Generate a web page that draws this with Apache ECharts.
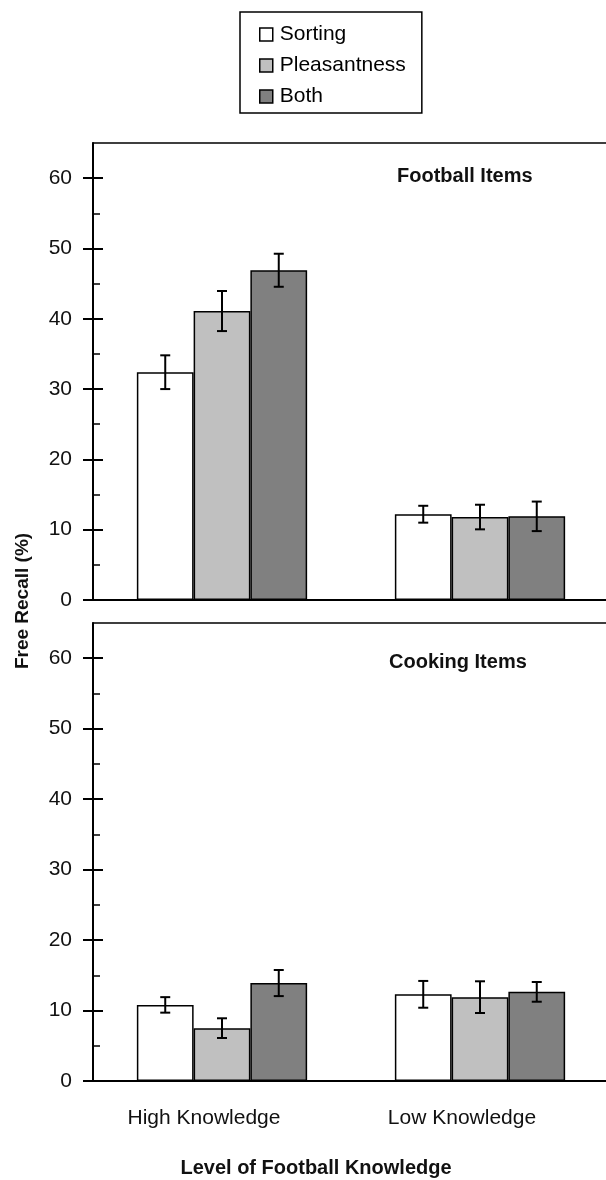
<!DOCTYPE html>
<html>
<head>
<meta charset="utf-8">
<script src="https://cdn.jsdelivr.net/npm/echarts@6/dist/echarts.min.js"></script>
<style>
html,body{margin:0;padding:0;background:#fff;}
#chart{width:606px;height:1180px;}
</style>
</head>
<body>
<div id="chart"></div>
<script>
// ---- data ----
const categories = ['High Knowledge', 'Low Knowledge'];
const seriesNames = ['Sorting', 'Pleasantness', 'Both'];
// Football Items panel (Free Recall %)
const footballSorting = [32.4, 12.2];
const footballPleasantness = [41.1, 11.8];
const footballBoth = [46.9, 11.9];
const footballSortingErr = [2.4, 1.2];
const footballPleasantnessErr = [2.85, 1.75];
const footballBothErr = [2.35, 2.1];
// Cooking Items panel
const cookingSorting = [10.8, 12.3];
const cookingPleasantness = [7.5, 11.9];
const cookingBoth = [13.9, 12.65];
const cookingSortingErr = [1.1, 1.9];
const cookingPleasantnessErr = [1.4, 2.25];
const cookingBothErr = [1.85, 1.4];
// axis ticks
const majorTicks = [0, 10, 20, 30, 40, 50, 60];
const minorTicks = [5, 15, 25, 35, 45, 55];
const yMax = 65;

const FONT = '"Liberation Sans", Arial, sans-serif';
const fills = ['#ffffff', '#c0c0c0', '#808080'];
const BAR_FRAC = 0.22;

const panels = [
  {vals: [footballSorting, footballPleasantness, footballBoth],
   errs: [footballSortingErr, footballPleasantnessErr, footballBothErr]},
  {vals: [cookingSorting, cookingPleasantness, cookingBoth],
   errs: [cookingSortingErr, cookingPleasantnessErr, cookingBothErr]}
];

const grids = [
  {left: 93, top: 143, width: 516, height: 457},
  {left: 93, top: 623, width: 516, height: 458}
].map(g => Object.assign(g, {show: false, containLabel: false, outerBoundsMode: 'none'}));

const xAxes = [0, 1].map(g => ({
  type: 'category', gridIndex: g, data: categories, position: 'bottom',
  axisLine: {show: true, onZero: false, lineStyle: {color: '#000', width: 2}},
  axisTick: {show: false},
  axisLabel: {show: g === 1, fontSize: 21, color: '#111', fontFamily: FONT, margin: 27, padding: [0, 36, 0, 0]}
})).concat([0, 1].map(g => ({
  type: 'category', gridIndex: g, data: categories, position: 'top',
  axisLine: {show: true, onZero: false, lineStyle: {color: '#000', width: 1.5}},
  axisTick: {show: false}, axisLabel: {show: false}
})));

const yAxes = [];
[0, 1].forEach(g => {
  const base = {type: 'value', gridIndex: g, min: 0, max: yMax, position: 'left', offset: 0,
    splitLine: {show: false}};
  yAxes.push(Object.assign({}, base, {
    axisLine: {show: true, onZero: false, lineStyle: {color: '#000', width: 2}},
    axisTick: {show: true, inside: false, length: 10, customValues: majorTicks, lineStyle: {color: '#000', width: 2}},
    axisLabel: {show: true, customValues: majorTicks, fontSize: 21, color: '#111', fontFamily: FONT, margin: 21}
  }));
  yAxes.push(Object.assign({}, base, {
    axisLine: {show: false, onZero: false},
    axisTick: {show: true, inside: true, length: 10, customValues: majorTicks, lineStyle: {color: '#000', width: 2}},
    axisLabel: {show: false}
  }));
  yAxes.push(Object.assign({}, base, {
    axisLine: {show: false, onZero: false},
    axisTick: {show: true, inside: true, length: 7, customValues: minorTicks, lineStyle: {color: '#000', width: 1.5}},
    axisLabel: {show: false}
  }));
});

const series = [];
panels.forEach((p, g) => {
  seriesNames.forEach((name, k) => {
    series.push({
      type: 'bar', name: name, xAxisIndex: g, yAxisIndex: g * 3,
      data: p.vals[k], barWidth: (BAR_FRAC * 100) + '%', barGap: '0%',
      itemStyle: {color: fills[k], borderColor: '#000', borderWidth: 1.5},
      emphasis: {disabled: true}, z: 2
    });
  });
  const errData = [];
  seriesNames.forEach((name, k) => {
    categories.forEach((c, i) => {
      errData.push([i, k, p.vals[k][i] - p.errs[k][i], p.vals[k][i] + p.errs[k][i]]);
    });
  });
  series.push({
    type: 'custom', xAxisIndex: g, yAxisIndex: g * 3, data: errData, z: 5,
    encode: {x: 0, y: [2, 3]}, silent: true,
    renderItem: function (params, api) {
      const cat = api.value(0), k = api.value(1);
      const band = api.size([1, 0])[0];
      const off = (k - 1) * band * BAR_FRAC;
      const pHi = api.coord([cat, api.value(3)]);
      const pLo = api.coord([cat, api.value(2)]);
      const x = pHi[0] + off, cap = 5;
      const st = {stroke: '#000', lineWidth: 2};
      return {type: 'group', children: [
        {type: 'line', shape: {x1: x, y1: pHi[1], x2: x, y2: pLo[1]}, style: st},
        {type: 'line', shape: {x1: x - cap, y1: pHi[1], x2: x + cap, y2: pHi[1]}, style: st},
        {type: 'line', shape: {x1: x - cap, y1: pLo[1], x2: x + cap, y2: pLo[1]}, style: st}
      ]};
    }
  });
});

const chart = echarts.init(document.getElementById('chart'), null, {renderer: 'canvas'});
chart.setOption({
  animation: false,
  backgroundColor: '#fff',
  textStyle: {fontFamily: FONT},
  legend: {
    data: seriesNames, orient: 'vertical', left: 240, top: 12,
    padding: [12, 16, 6, 19], itemWidth: 13, itemHeight: 13, itemGap: 10,
    icon: 'rect', selectedMode: false,
    borderColor: '#000', borderWidth: 1.5,
    itemStyle: {borderColor: '#000', borderWidth: 1.5},
    textStyle: {fontSize: 21, lineHeight: 21, color: '#000', fontFamily: FONT, padding: [0, 0, 0, 2]}
  },
  grid: grids,
  xAxis: xAxes,
  yAxis: yAxes,
  series: series,
  graphic: [
    {type: 'text', left: 397, top: 166, style: {text: 'Football Items', font: 'bold 20px ' + FONT, fill: '#111'}},
    {type: 'text', left: 389, top: 652, style: {text: 'Cooking Items', font: 'bold 20px ' + FONT, fill: '#111'}},
    {type: 'text', x: 22.5, y: 601, rotation: Math.PI / 2,
     style: {text: 'Free Recall (%)', font: 'bold 19px ' + FONT, fill: '#111', align: 'center', verticalAlign: 'middle'}},
    {type: 'text', x: 316, y: 1168,
     style: {text: 'Level of Football Knowledge', font: 'bold 20px ' + FONT, fill: '#111', align: 'center', verticalAlign: 'middle'}}
  ]
});
</script>
</body>
</html>
